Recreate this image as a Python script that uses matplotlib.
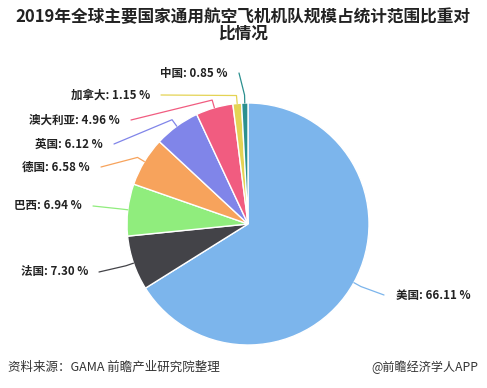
import numpy as np
import matplotlib.pyplot as plt

plt.rcParams['font.family'] = ['Noto Sans CJK SC', 'DejaVu Sans']

countries = ['美国', '法国', '巴西', '德国', '英国', '澳大利亚', '加拿大', '中国']
shares = [66.11, 7.30, 6.94, 6.58, 6.12, 4.96, 1.15, 0.85]
colors = ['#7cb5ec', '#434348', '#90ed7d', '#f7a35c', '#8085e9', '#f15c80', '#e4d354', '#2b908f']

# label anchors in pixels (x, y from top), side of pie
lab_x = [396, 88, 82, 90, 103, 120, 150, 228]
lab_y = [295, 272, 206, 167, 144, 120, 95, 73]

W, H = 487, 388
cx, cy, r = 248, 224, 121

fig = plt.figure(figsize=(W / 100, H / 100), dpi=100)
ax = fig.add_axes([0, 0, 1, 1])

ax.pie(shares, colors=colors, startangle=90, counterclock=False,
       center=(cx, H - cy), radius=r,
       wedgeprops=dict(edgecolor='white', linewidth=1))
ax.set_xlim(0, W)
ax.set_ylim(0, H)
ax.set_aspect('equal')
ax.axis('off')

total = sum(shares)
cum = np.cumsum([0] + shares)
for i, name in enumerate(countries):
    mid = (cum[i] + cum[i + 1]) / 2 / total * 2 * np.pi
    ex, ey = cx + r * np.sin(mid), cy - r * np.cos(mid)
    bx, by = cx + (r + 8) * np.sin(mid), cy - (r + 8) * np.cos(mid)
    if lab_x[i] > cx:
        endx = lab_x[i] - 12
        ha = 'left'
    else:
        endx = lab_x[i] + 11
        ha = 'right'
    ax.plot([ex, bx, endx], [H - ey, H - by, H - lab_y[i]], color=colors[i], lw=0.9,
            solid_capstyle='round')
    ax.text(lab_x[i], H - lab_y[i], f'{name}: {shares[i]:.2f} %', ha=ha, va='center',
            fontsize=8.3, fontweight='bold', color='#222222')

ax.text(243, H - 17, '2019年全球主要国家通用航空飞机机队规模占统计范围比重对',
        ha='center', va='center', fontsize=12, fontweight='bold', color='#222222')
ax.text(243, H - 34, '比情况', ha='center', va='center', fontsize=12,
        fontweight='bold', color='#222222')

ax.text(8, H - 367, '资料来源：GAMA 前瞻产业研究院整理', ha='left', va='center',
        fontsize=9, color='#333333')
ax.text(478, H - 367, '@前瞻经济学人APP', ha='right', va='center',
        fontsize=8.7, color='#333333')

fig.savefig('out.png', dpi=100)
